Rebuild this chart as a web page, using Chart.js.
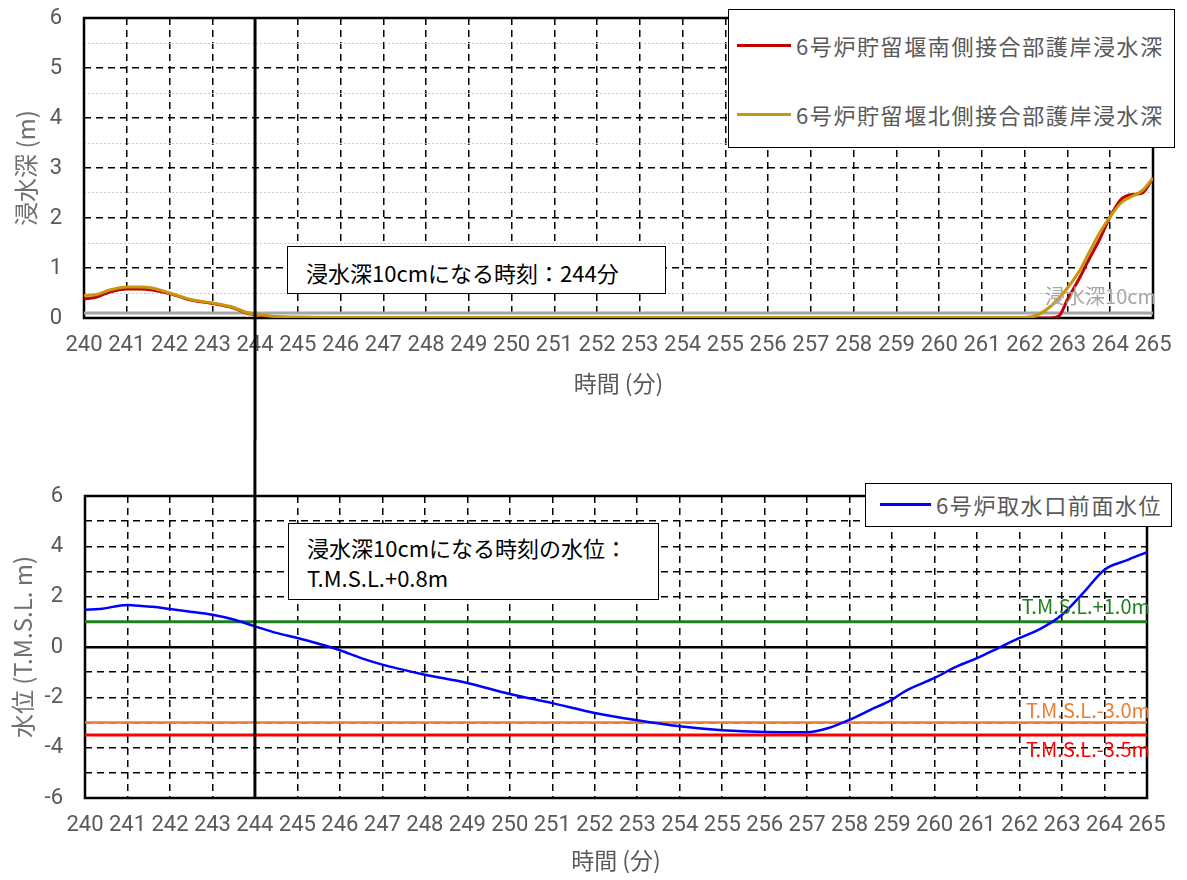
<!DOCTYPE html>
<html lang="ja">
<head>
<meta charset="utf-8">
<title>浸水深と取水口前面水位</title>
<script src="https://cdn.jsdelivr.net/npm/chart.js@4.4.1/dist/chart.umd.min.js"></script>
<style>
    body { margin: 0; background: #fff; }
    #page { position: relative; width: 1187px; height: 880px; overflow: hidden; font-family: 'Noto Sans CJK JP', sans-serif; }
    canvas { position: absolute; left: 0; }
    #depthChart { top: 0; }
    #levelChart { top: 440px; }
    .legend { position: absolute; background: #fff; border: 1.5px solid #000; box-sizing: border-box; }
    .legend-item { position: absolute; display: flex; align-items: center; height: 30px; font-size: 22px; letter-spacing: 1.6px; color: #595959; white-space: nowrap; }
    .swatch { display: inline-block; height: 3px; margin-right: 5px; }
    .note { position: absolute; background: #fff; border: 1.5px solid #000; box-sizing: border-box; font-size: 22px; line-height: 30px; color: #000; padding-left: 18px; white-space: nowrap; }
</style>
</head>
<body>
<div id="page">
    <canvas id="depthChart" width="1187" height="440"></canvas>
    <canvas id="levelChart" width="1187" height="440"></canvas>

    <div class="legend" style="left:728px; top:9px; width:447px; height:139px;">
        <div class="legend-item" style="left:8px; top:20px;"><span class="swatch" style="width:54px; background:#c00000;"></span>6号炉貯留堰南側接合部護岸浸水深</div>
        <div class="legend-item" style="left:8px; top:89px;"><span class="swatch" style="width:54px; background:#c8960c;"></span>6号炉貯留堰北側接合部護岸浸水深</div>
    </div>
    <div class="legend" style="left:865px; top:483px; width:307px; height:44px;">
        <div class="legend-item" style="left:14px; top:5px;"><span class="swatch" style="width:51px; background:#0000ff;"></span>6号炉取水口前面水位</div>
    </div>

    <div class="note" style="left:287px; top:246px; width:379px; height:48px; padding-top:10px;">浸水深10cmになる時刻：244分</div>
    <div class="note" style="left:288px; top:523px; width:371px; height:77px; padding-top:8px;">浸水深10cmになる時刻の水位：<br>T.M.S.L.+0.8m</div>
</div>

<script>
// time axis (minutes)
const timeRange = [240, 265];
const markerMinute = 244;

// flood depth at the storage weir joints (m)
const depthMinutes = [240, 240.3, 240.6, 241, 241.3, 241.6, 242, 242.5, 243, 243.5, 243.8, 244, 244.5, 245, 246, 250, 255, 260, 262, 262.3, 262.6, 262.8, 263, 263.3, 263.5, 263.75, 264, 264.25, 264.5, 264.75, 265];
const southDepth = [0.38, 0.42, 0.52, 0.58, 0.58, 0.56, 0.49, 0.36, 0.29, 0.2, 0.1, 0.07, 0.02, 0.01, 0, 0, 0, 0, 0, 0, 0, 0.04, 0.37, 0.83, 1.17, 1.57, 2.03, 2.37, 2.47, 2.5, 2.8];
const northDepth = [0.45, 0.47, 0.56, 0.62, 0.62, 0.6, 0.5, 0.37, 0.3, 0.21, 0.11, 0.08, 0.03, 0.02, 0.01, 0.01, 0.01, 0.01, 0.01, 0.06, 0.23, 0.4, 0.6, 0.97, 1.3, 1.7, 2.03, 2.3, 2.43, 2.55, 2.8];
const depthThreshold = 0.1;

// water level in front of the intake (T.M.S.L. m)
const levelMinutes = [240, 240.35, 241, 241.4, 241.6, 242, 242.4, 243, 243.5, 244, 244.5, 245, 245.5, 246, 246.5, 247, 247.4, 248, 249, 250, 251, 252, 253, 254, 255, 256, 257, 257.5, 258, 258.5, 259, 259.3, 260, 260.5, 261, 261.5, 262, 262.5, 263, 263.5, 264, 264.5, 265];
const intakeLevel = [1.48, 1.51, 1.67, 1.62, 1.6, 1.51, 1.42, 1.28, 1.09, 0.82, 0.56, 0.36, 0.13, -0.13, -0.44, -0.7, -0.87, -1.1, -1.43, -1.87, -2.23, -2.62, -2.91, -3.15, -3.31, -3.38, -3.39, -3.22, -2.89, -2.49, -2.09, -1.76, -1.23, -0.79, -0.44, -0.04, 0.36, 0.73, 1.28, 2.15, 3.07, 3.43, 3.77];
const refLevels = [1.0, -3.0, -3.5];
const refLabels = ['T.M.S.L.+1.0m', 'T.M.S.L.-3.0m', 'T.M.S.L.-3.5m'];

const colors = {
    south: '#c00000',
    north: '#c8960c',
    threshold: '#a6a6a6',
    level: '#0000ff',
    refs: ['#1e7f1e', '#ed7d31', '#ff0000'],
    tick: '#595959',
    title: '#707070'
};

Chart.defaults.font.family = "Roboto, 'Noto Sans CJK JP', sans-serif";
Chart.defaults.color = colors.tick;

const toPoints = (xs, ys) => xs.map((x, i) => ({ x: x, y: ys[i] }));
const flatLine = (y) => timeRange.map(x => ({ x: x, y: y }));

// black frame around the plot area
const framePlugin = {
    id: 'frame',
    beforeDatasetsDraw(chart) {
        const a = chart.chartArea;
        const ctx = chart.ctx;
        ctx.save();
        ctx.strokeStyle = '#000';
        ctx.lineWidth = 2.5;
        ctx.strokeRect(a.left, a.top, a.right - a.left, a.bottom - a.top);
        ctx.restore();
    }
};

// vertical line at 244 min, running through both charts
const markerPlugin = {
    id: 'marker',
    afterDraw(chart, args, opts) {
        const x = chart.scales.x.getPixelForValue(markerMinute);
        const ctx = chart.ctx;
        ctx.save();
        ctx.strokeStyle = '#000';
        ctx.lineWidth = 3;
        ctx.beginPath();
        ctx.moveTo(x, opts.fromTop ? 0 : chart.chartArea.top);
        ctx.lineTo(x, opts.fromTop ? chart.chartArea.bottom : chart.height);
        ctx.stroke();
        ctx.restore();
    }
};

// text labels for the horizontal reference lines
const refLabelPlugin = {
    id: 'refLabels',
    afterDatasetsDraw(chart, args, opts) {
        const ctx = chart.ctx;
        const y = chart.scales.y;
        const right = chart.chartArea.right + 3;
        ctx.save();
        ctx.font = "20px 'Noto Sans CJK JP'";
        ctx.textAlign = 'right';
        ctx.textBaseline = 'middle';
        opts.items.forEach(item => {
            ctx.fillStyle = item.color;
            ctx.fillText(item.text, right, y.getPixelForValue(item.value) + item.dy);
        });
        ctx.restore();
    }
};

function xAxis(height, tickPad, titlePad) {
    return {
        type: 'linear',
        min: timeRange[0],
        max: timeRange[1],
        afterFit: (scale) => { scale.height = height; },
        ticks: {
            stepSize: 1,
            autoSkip: false,
            maxRotation: 0,
            padding: tickPad,
            color: colors.tick,
            font: { size: 22 }
        },
        grid: { color: '#000', lineWidth: 1.5, drawTicks: false },
        border: { display: false, dash: [7, 5] },
        title: {
            display: true,
            text: '時間 (分)',
            color: colors.tick,
            font: { size: 23, family: "'Noto Sans CJK JP'" },
            padding: { top: 0, bottom: titlePad }
        }
    };
}

// fixed y-axis width, and no extra room asked for the end labels
function fitY(width) {
    return (scale) => {
        scale.width = width;
        scale.paddingTop = 0;
        scale.paddingBottom = 0;
    };
}

function lineSet(label, data, color, width, order, smooth) {
    return {
        label: label,
        data: data,
        borderColor: color,
        backgroundColor: color,
        borderWidth: width,
        pointRadius: 0,
        fill: false,
        order: order,
        cubicInterpolationMode: smooth ? 'monotone' : 'default'
    };
}

new Chart(document.getElementById('depthChart'), {
    type: 'line',
    data: {
        datasets: [
            lineSet('6号炉貯留堰南側接合部護岸浸水深', toPoints(depthMinutes, southDepth), colors.south, 3, 2, true),
            lineSet('6号炉貯留堰北側接合部護岸浸水深', toPoints(depthMinutes, northDepth), colors.north, 3, 1, true),
            lineSet('浸水深10cm', flatLine(depthThreshold), colors.threshold, 3, 3, false)
        ]
    },
    options: {
        responsive: false,
        animation: false,
        layout: { padding: { top: 18, right: 34, left: 0, bottom: 0 } },
        plugins: {
            legend: { display: false },
            tooltip: { enabled: false },
            refLabels: { items: [{ text: '浸水深10cm', value: depthThreshold, dy: -17, color: colors.threshold }] },
            marker: { fromTop: false }
        },
        scales: {
            x: xAxis(122, 14, 43),
            y: {
                min: 0,
                max: 6,
                afterFit: fitY(84),
                ticks: {
                    stepSize: 0.5,
                    autoSkip: false,
                    padding: 22,
                    color: colors.tick,
                    font: { size: 22 },
                    callback: (v) => Number.isInteger(v) ? v : ''
                },
                grid: {
                    drawTicks: false,
                    color: (c) => c.tick && !Number.isInteger(c.tick.value) ? '#c8c8c8' : '#000',
                    lineWidth: (c) => c.tick && !Number.isInteger(c.tick.value) ? 1 : 1.5
                },
                border: {
                    display: false,
                    dash: (c) => c.tick && !Number.isInteger(c.tick.value) ? [2, 2] : [7, 5]
                },
                title: {
                    display: true,
                    text: '浸水深 (m)',
                    color: colors.title,
                    font: { size: 24, family: "'Noto Sans CJK JP'" },
                    padding: { top: 11, bottom: 0 }
                }
            }
        }
    },
    plugins: [framePlugin, refLabelPlugin, markerPlugin]
});

new Chart(document.getElementById('levelChart'), {
    type: 'line',
    data: {
        datasets: [
            lineSet('6号炉取水口前面水位', toPoints(levelMinutes, intakeLevel), colors.level, 2.5, 1, true),
            ...refLevels.map((v, i) => lineSet(refLabels[i], flatLine(v), colors.refs[i], i === 1 ? 2.5 : 3, 2 + i, false))
        ]
    },
    options: {
        responsive: false,
        animation: false,
        layout: { padding: { top: 56, right: 40, left: 0, bottom: 0 } },
        plugins: {
            legend: { display: false },
            tooltip: { enabled: false },
            refLabels: {
                items: refLevels.map((v, i) => ({ text: refLabels[i], value: v, dy: [-15, -12, 14][i], color: colors.refs[i] }))
            },
            marker: { fromTop: true }
        },
        scales: {
            x: xAxis(82, 14, 6),
            y: {
                min: -6,
                max: 6,
                afterFit: fitY(85),
                ticks: {
                    stepSize: 1,
                    autoSkip: false,
                    padding: 22,
                    color: colors.tick,
                    font: { size: 22 },
                    callback: (v) => v % 2 === 0 ? v : ''
                },
                grid: {
                    drawTicks: false,
                    color: '#000',
                    lineWidth: (c) => c.tick && c.tick.value === 0 ? 2.5 : 1.5
                },
                border: {
                    display: false,
                    dash: (c) => c.tick && c.tick.value === 0 ? [] : [7, 5]
                },
                title: {
                    display: true,
                    text: '水位 (T.M.S.L. m)',
                    color: colors.title,
                    font: { size: 24, family: "'Noto Sans CJK JP'" },
                    padding: { top: 8, bottom: 0 }
                }
            }
        }
    },
    plugins: [framePlugin, refLabelPlugin, markerPlugin]
});
</script>
</body>
</html>
